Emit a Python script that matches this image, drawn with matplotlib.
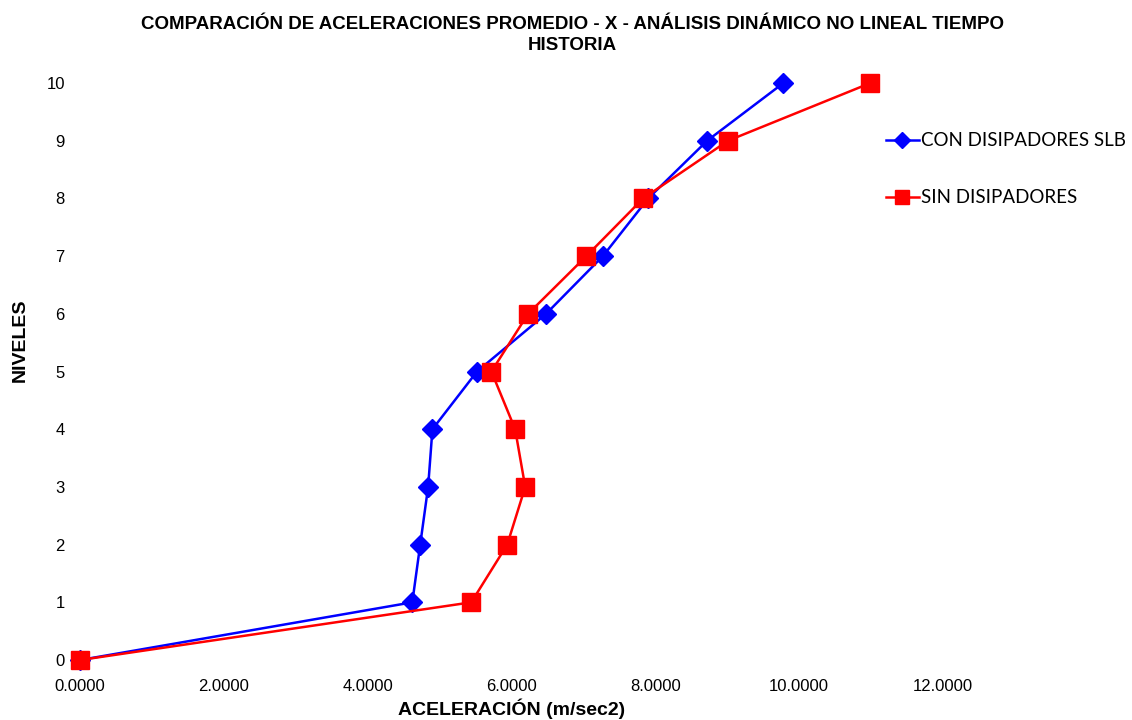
import numpy as np
import matplotlib.pyplot as plt

niveles = [0, 1, 2, 3, 4, 5, 6, 7, 8, 9, 10]
con_slb = [0.0, 4.62, 4.73, 4.84, 4.90, 5.52, 6.48, 7.27, 7.90, 8.72, 9.78]
sin_disip = [0.0, 5.44, 5.94, 6.19, 6.05, 5.72, 6.23, 7.04, 7.83, 9.01, 10.99]
xticks = [0, 2, 4, 6, 8, 10, 12]

fig = plt.figure(figsize=(11.32, 7.2), dpi=100)
ax = fig.add_axes([0.0707, 0.0833, 0.7624, 0.8014])

ax.plot(con_slb, niveles, color='#0000ff', lw=1.8, marker='D', ms=10,
        label='CON DISIPADORES SLB', clip_on=False, zorder=2)
ax.plot(sin_disip, niveles, color='#ff0000', lw=1.8, marker='s', ms=12.5,
        label='SIN DISIPADORES', clip_on=False, zorder=3)

ax.set_xlim(0, 12)
ax.set_ylim(0, 10)
ax.set_xticks(xticks)
ax.set_xticklabels(['%.4f' % v for v in xticks])
ax.set_yticks(niveles)
for s in ax.spines.values():
    s.set_visible(False)
ax.tick_params(length=0, labelsize=12)
ax.tick_params(axis='y', pad=11)
ax.tick_params(axis='x', pad=14)
for lab in ax.get_xticklabels() + ax.get_yticklabels():
    lab.set_family('Liberation Sans')

ax.set_xlabel('ACELERACIÓN (m/sec2)', fontsize=14, fontweight='bold',
              family='Liberation Sans', labelpad=3)
fig.text(0.018, 0.528, 'NIVELES', rotation=90, ha='center', va='center',
         fontsize=14, fontweight='bold', family='Liberation Sans')

fig.text(0.506, 0.978, 'COMPARACIÓN DE ACELERACIONES PROMEDIO - X - ANÁLISIS DINÁMICO NO LINEAL TIEMPO\nHISTORIA',
         ha='center', va='top', fontsize=13.5, fontweight='bold',
         family='Liberation Sans', linespacing=1.3)

leg = fig.legend(loc='upper left', bbox_to_anchor=(0.7676, 0.840), frameon=False,
                 prop={'family': 'Lato', 'size': 13.5}, markerscale=0.8,
                 handlelength=1.75, handletextpad=0.15, labelspacing=2.15)

fig.savefig('out.png', dpi=100)
